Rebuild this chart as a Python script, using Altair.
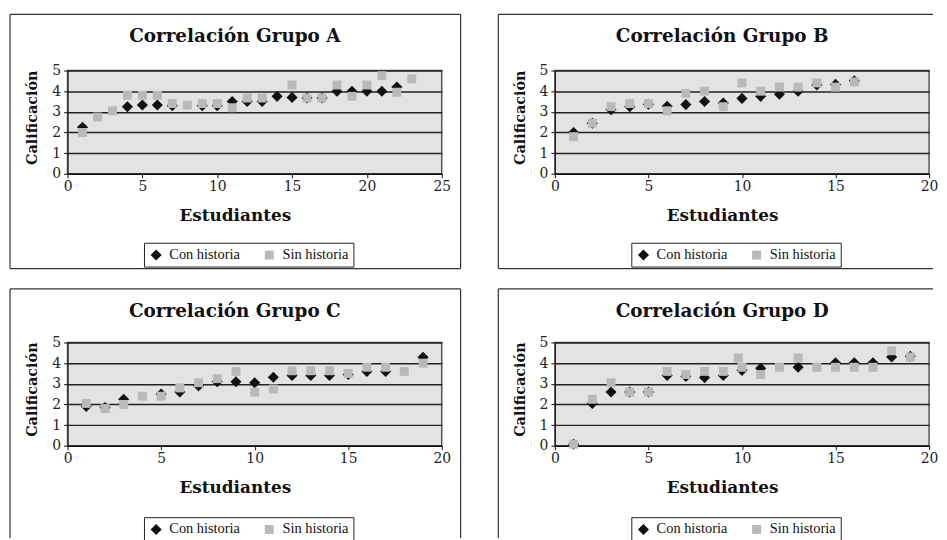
import altair as alt
import pandas as pd

SERIES = ["Con historia", "Sin historia"]
X_TITLE = "Estudiantes"
Y_TITLE = "Calificación"
TITLES = ["Correlación Grupo A", "Correlación Grupo B", "Correlación Grupo C", "Correlación Grupo D"]

# Grupo A
A_con_x = [1, 4, 5, 6, 7, 9, 10, 11, 12, 13, 14, 15, 16, 17, 18, 19, 20, 21, 22]
A_con_y = [2.25, 3.25, 3.33, 3.33, 3.3, 3.3, 3.3, 3.5, 3.5, 3.5, 3.75, 3.7, 3.67, 3.67, 4.0, 4.0, 4.0, 4.0, 4.2]
A_sin_x = [1, 2, 3, 4, 5, 6, 7, 8, 9, 10, 11, 12, 13, 15, 16, 17, 18, 19, 20, 21, 22, 23]
A_sin_y = [2.0, 2.75, 3.05, 3.8, 3.8, 3.8, 3.4, 3.33, 3.4, 3.4, 3.2, 3.67, 3.67, 4.3, 3.67, 3.67, 4.3, 3.75, 4.3, 4.75, 3.95, 4.6]

# Grupo B
B_con_x = [1, 2, 3, 4, 5, 6, 7, 8, 9, 10, 11, 12, 13, 14, 15, 16]
B_con_y = [2.0, 2.45, 3.1, 3.25, 3.37, 3.27, 3.35, 3.5, 3.43, 3.65, 3.75, 3.85, 4.0, 4.3, 4.33, 4.5]
B_sin_x = [1, 2, 3, 4, 5, 6, 7, 8, 9, 10, 11, 12, 13, 14, 15, 16]
B_sin_y = [1.8, 2.45, 3.25, 3.4, 3.4, 3.05, 3.9, 4.0, 3.25, 4.4, 4.0, 4.2, 4.2, 4.4, 4.2, 4.45]

# Grupo C
C_con_x = [1, 2, 3, 5, 6, 7, 8, 9, 10, 11, 12, 13, 14, 15, 16, 17, 19]
C_con_y = [1.9, 1.85, 2.25, 2.5, 2.6, 2.9, 3.1, 3.1, 3.05, 3.32, 3.4, 3.4, 3.4, 3.45, 3.6, 3.6, 4.28]
C_sin_x = [1, 2, 3, 4, 5, 6, 7, 8, 9, 10, 11, 12, 13, 14, 15, 16, 17, 18, 19]
C_sin_y = [2.05, 1.8, 2.0, 2.4, 2.4, 2.8, 3.05, 3.25, 3.6, 2.6, 2.75, 3.63, 3.63, 3.63, 3.5, 3.8, 3.8, 3.6, 4.0]

# Grupo D
D_con_x = [1, 2, 3, 4, 5, 6, 7, 8, 9, 10, 11, 13, 15, 16, 17, 18, 19]
D_con_y = [0.07, 2.05, 2.6, 2.6, 2.6, 3.4, 3.35, 3.3, 3.4, 3.65, 3.75, 3.8, 4.02, 4.02, 4.02, 4.3, 4.33]
D_sin_x = [1, 2, 3, 4, 5, 6, 7, 8, 9, 9.8, 10, 11, 12, 13, 14, 15, 16, 17, 18, 19]
D_sin_y = [0.07, 2.25, 3.05, 2.6, 2.6, 3.6, 3.45, 3.6, 3.6, 4.25, 3.8, 3.45, 3.8, 4.25, 3.8, 3.8, 3.8, 3.8, 4.6, 4.3]

W, H = 377, 104
SERIF = "DejaVu Serif"
LEG_FONT = "Liberation Serif"
FRAME = "#333333"

_one = pd.DataFrame({"k": [0]})


def hline(x1, x2, y):
    return alt.Chart(_one).mark_rule(color=FRAME, strokeWidth=1.2).encode(
        x=alt.value(x1), x2=alt.value(x2), y=alt.value(y))


def vline(x, y1, y2):
    return alt.Chart(_one).mark_rule(color=FRAME, strokeWidth=1.2).encode(
        x=alt.value(x), y=alt.value(y1), y2=alt.value(y2))


def panel(title, con_x, con_y, sin_x, sin_y, xmax, frame_lines, legend_y):
    df = pd.DataFrame({
        "Estudiantes": list(con_x) + list(sin_x),
        "Calificación": list(con_y) + list(sin_y),
        "Serie": [SERIES[0]] * len(con_x) + [SERIES[1]] * len(sin_x),
    })
    df["orden"] = range(len(df))
    leg = alt.Legend(title=None, orient="none", legendX=77, legendY=legend_y,
                     direction="horizontal", strokeColor="#222222", fillColor="white",
                     padding=5, labelFont=LEG_FONT, labelFontSize=14.5, labelColor="#111111",
                     labelOffset=6, columnPadding=22, symbolStrokeWidth=0)
    pts = alt.Chart(df).mark_point(filled=True, opacity=1, strokeWidth=0).encode(
        x=alt.X("Estudiantes:Q", title=X_TITLE,
                scale=alt.Scale(domain=[0, xmax], nice=False),
                axis=alt.Axis(values=list(range(0, xmax + 1, 5)), grid=False, labelFlush=False,
                              tickSize=4, titleX=168.5, titleY=47, titleAlign="center",
                              titleBaseline="alphabetic")),
        y=alt.Y("Calificación:Q", title=Y_TITLE,
                scale=alt.Scale(domain=[0, 5], nice=False),
                axis=alt.Axis(values=[0, 1, 2, 3, 4, 5], grid=True, tickSize=4,
                              titleAngle=270, titleX=-31, titleY=47, titleAlign="center",
                              titleBaseline="alphabetic")),
        color=alt.Color("Serie:N", scale=alt.Scale(domain=SERIES, range=["#111111", "#b9b9b9"]), legend=leg),
        shape=alt.Shape("Serie:N", scale=alt.Scale(domain=SERIES, range=["diamond", "square"]), legend=leg),
        size=alt.Size("Serie:N", scale=alt.Scale(domain=SERIES, range=[125, 81]), legend=leg),
        order=alt.Order("orden:Q"),
    )
    return alt.layer(*(frame_lines + [pts])).properties(
        width=W, height=H,
        title=alt.TitleParams(text=title, font=SERIF, fontSize=18.5, fontWeight="bold",
                              color="#111111", anchor="middle", frame="group", dx=-20, dy=47,
                              offset=0, baseline="alphabetic"))


pA = panel(TITLES[0], A_con_x, A_con_y, A_sin_x, A_sin_y, 25,
           [vline(-58, -56.5, 199.5), vline(396, -56.5, 199.5),
            hline(-58, 396, -56.5), hline(-58, 396, 199.5)], 173.5)
pB = panel(TITLES[1], B_con_x, B_con_y, B_sin_x, B_sin_y, 20,
           [vline(-57, -56.5, 199.5), hline(-57, 381, -56.5), hline(-57, 381, 199.5)], 173.5)
pC = panel(TITLES[2], C_con_x, C_con_y, C_sin_x, C_sin_y, 20,
           [vline(-58, -54, 197), vline(396, -54, 197), hline(-58, 396, -54)], 176)
pD = panel(TITLES[3], D_con_x, D_con_y, D_sin_x, D_sin_y, 20,
           [vline(-57, -54, 197), hline(-57, 381, -54)], 176)

chart = alt.concat(pA, pB, pC, pD, columns=2, spacing={"row": 170, "column": 114},
                   bounds="flush").resolve_scale(
    x="independent", y="independent", color="independent", shape="independent", size="independent"
).resolve_legend(
    color="independent", shape="independent", size="independent"
).properties(
    padding={"left": 0, "top": 3, "right": 0, "bottom": 0}
).configure_view(
    fill="#e3e3e3", stroke="#555555", strokeWidth=1.5
).configure_axis(
    domainColor="#111111", tickColor="#111111", labelFont=SERIF, labelFontSize=14,
    labelColor="#222222", titleFont=SERIF, titleFontWeight="bold", titleColor="#111111",
    gridColor="#222222", gridWidth=1.5, gridOpacity=1, labelPadding=2
).configure_axisX(
    titleFontSize=17
).configure_axisY(
    titleFontSize=14.5, labelPadding=3
)

chart.save("out.html", embed_options={"renderer": "svg", "actions": False})
